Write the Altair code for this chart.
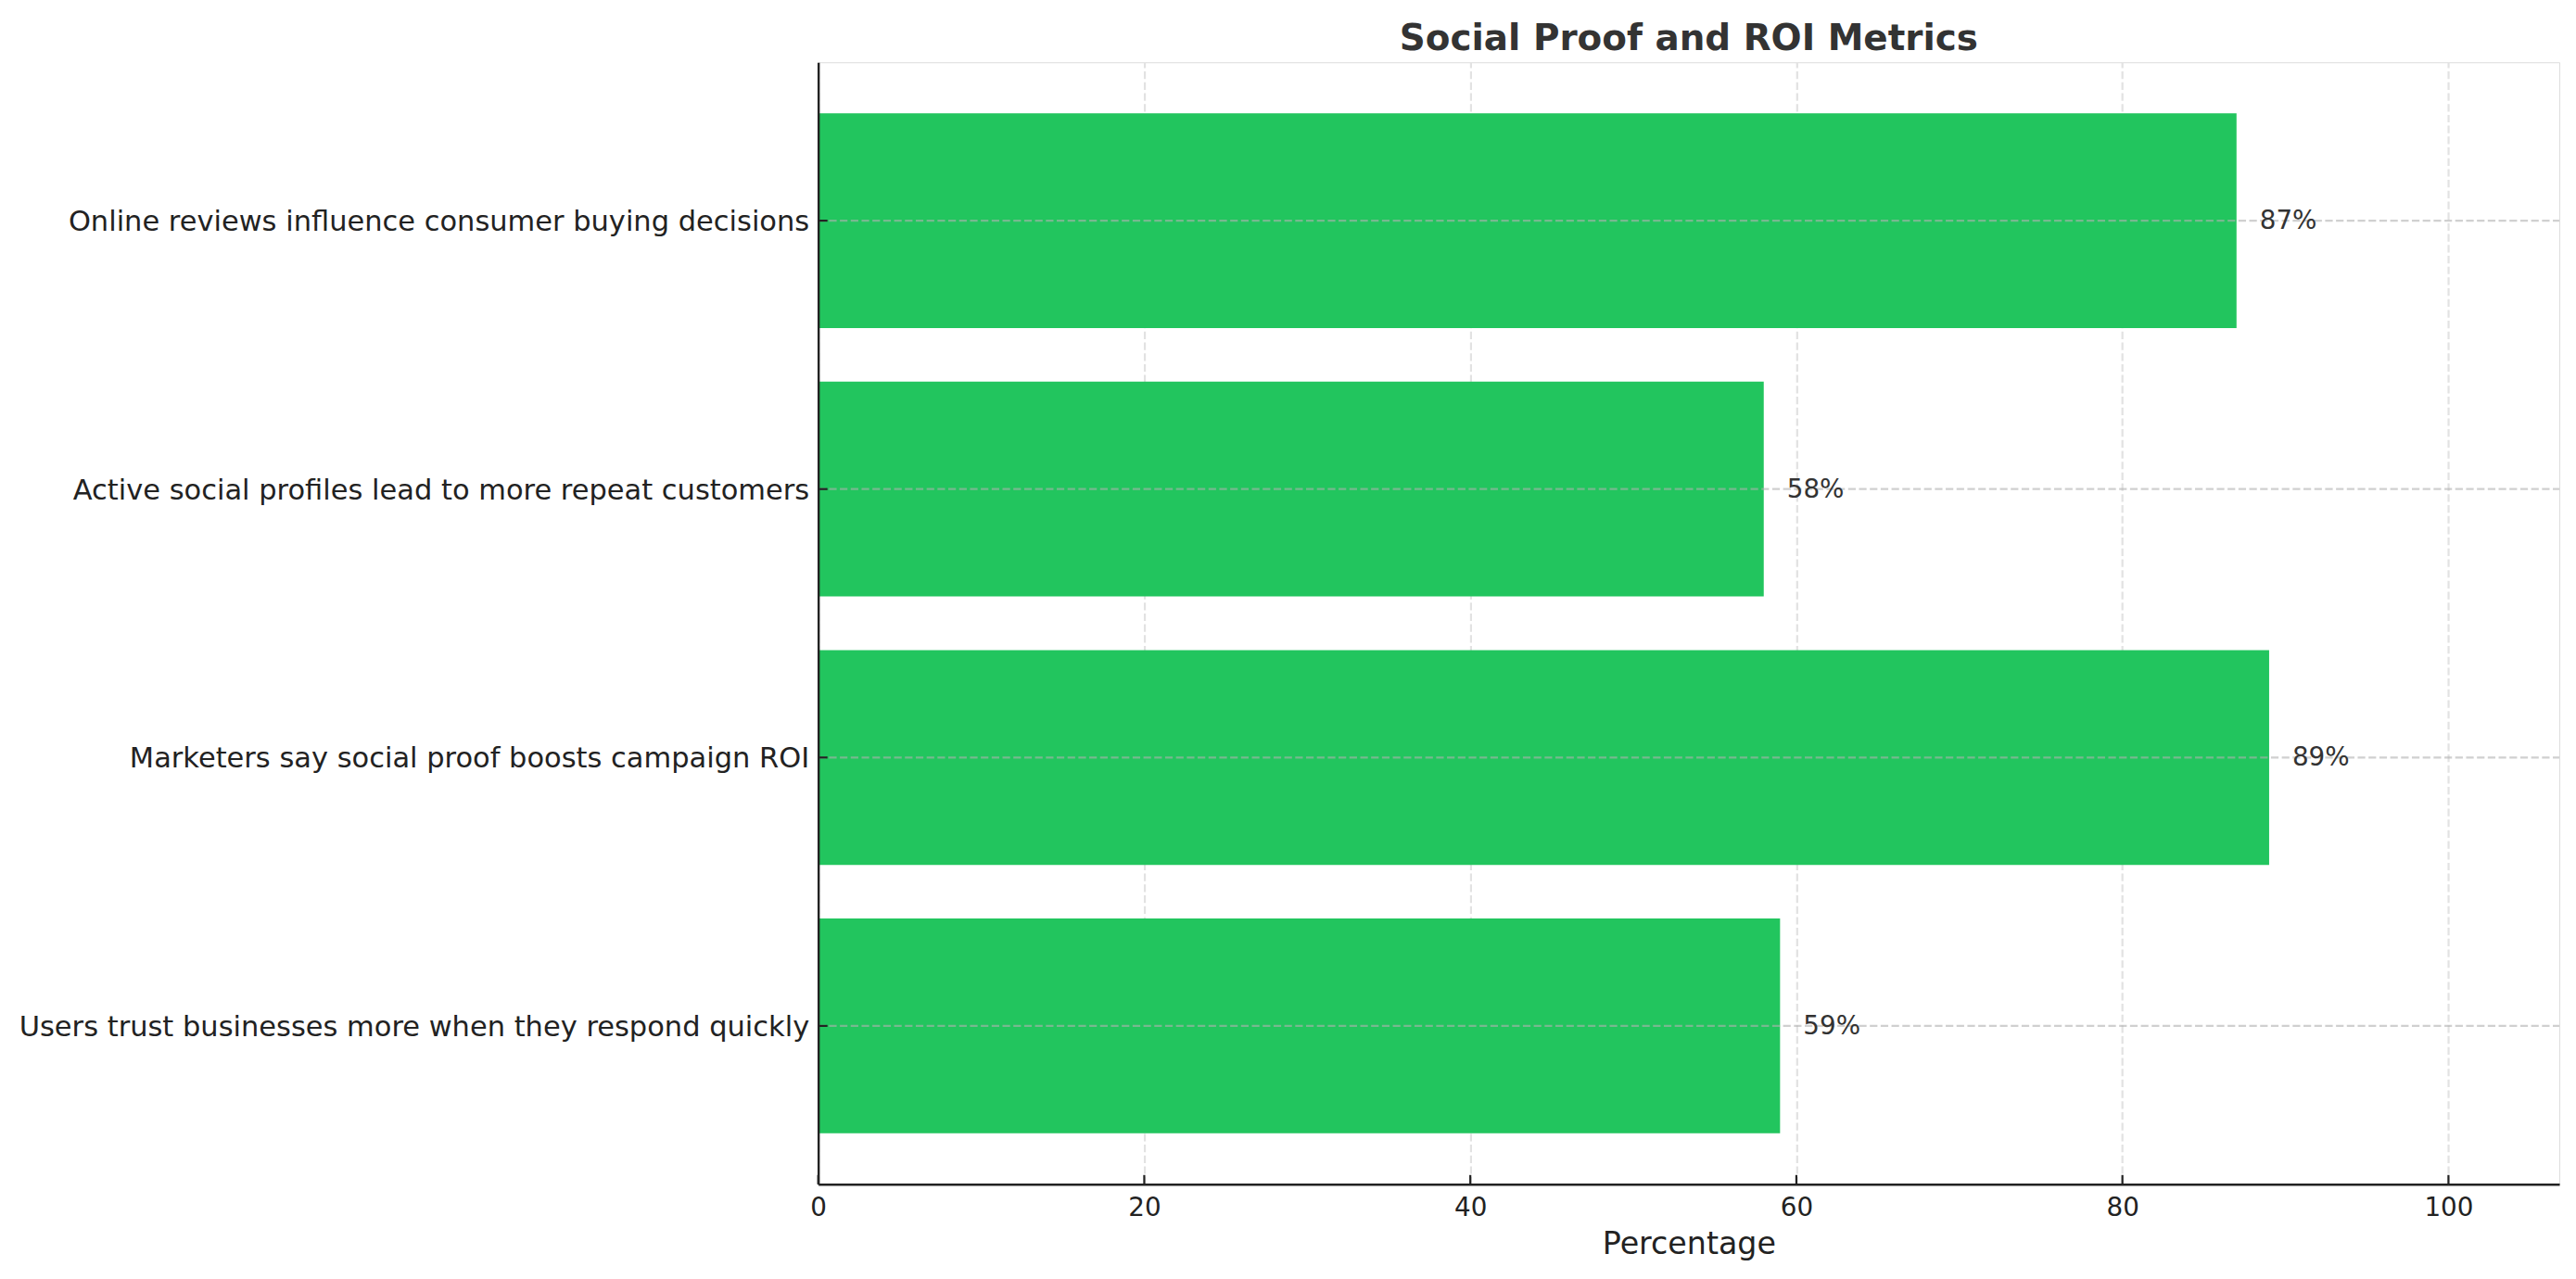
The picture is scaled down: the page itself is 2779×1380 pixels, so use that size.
import altair as alt
import pandas as pd

categories = [
    "Online reviews influence consumer buying decisions",
    "Active social profiles lead to more repeat customers",
    "Marketers say social proof boosts campaign ROI",
    "Users trust businesses more when they respond quickly",
]
values = [87, 58, 89, 59]
x_ticks = [0, 20, 40, 60, 80, 100]

df = pd.DataFrame({
    "label": categories,
    "value": values,
    "text": [f"{v}%" for v in values],
})
ticks_df = pd.DataFrame({"t": x_ticks})

FONT = "DejaVu Sans"
W, H = 1879, 1211
DASH = [8.2, 3.5]

x_enc = alt.X(
    "value:Q",
    scale=alt.Scale(domain=[0, 106.8], nice=False, zero=True),
    axis=alt.Axis(
        values=x_ticks,
        grid=True,
        gridColor="#e2e2e2",
        gridDash=DASH,
        gridWidth=2.2,
        domain=True,
        domainColor="#222222",
        domainWidth=2.4,
        ticks=False,
        labelFontSize=27.8,
        labelColor="#222222",
        labelPadding=12,
        labelFlush=False,
        labelFont=FONT,
        title="Percentage",
        titleFontSize=33.3,
        titleFontWeight="normal",
        titleColor="#222222",
        titleFont=FONT,
        titleBaseline="alphabetic",
        titleY=75,
        zindex=0,
    ),
)
y_enc = alt.Y(
    "label:N",
    sort=categories,
    scale=alt.Scale(paddingInner=0.2, paddingOuter=0.19),
    axis=alt.Axis(
        title=None,
        grid=False,
        domain=True,
        domainColor="#222222",
        domainWidth=2.4,
        ticks=False,
        labelFontSize=30.5,
        labelColor="#222222",
        labelPadding=10,
        labelOffset=2,
        labelLimit=2000,
        labelFont=FONT,
        zindex=1,
    ),
)

base = alt.Chart(df)

bars = base.mark_bar(color="#22c55e").encode(x=x_enc, y=y_enc)

hgrid = base.mark_rule(
    color="#b0b0b0", opacity=0.6, strokeWidth=2.2, strokeDash=DASH
).encode(y=alt.Y("label:N", sort=categories), x=alt.value(0), x2=alt.value(W))

labels = base.mark_text(
    align="left", baseline="middle", dx=25, dy=1, fontSize=27.8, color="#333333", font=FONT
).encode(x="value:Q", y=alt.Y("label:N", sort=categories), text="text:N")

xticks = alt.Chart(ticks_df).mark_rule(color="#222222", strokeWidth=2.2).encode(
    x="t:Q", y=alt.value(H - 10), y2=alt.value(H)
)
yticks = base.mark_rule(color="#222222", strokeWidth=2.2).encode(
    y=alt.Y("label:N", sort=categories), x=alt.value(0), x2=alt.value(10)
)

chart = (
    alt.layer(bars, hgrid, labels, xticks, yticks)
    .properties(
        width=W,
        height=H,
        title=alt.TitleParams(
            "Social Proof and ROI Metrics",
            fontSize=38.9,
            fontWeight="bold",
            color="#333333",
            font=FONT,
            anchor="middle",
            baseline="alphabetic",
            offset=16,
            dy=42,
        ),
        autosize=alt.AutoSizeParams(type="none"),
        padding={"left": 875, "top": 59, "right": 10, "bottom": 94},
    )
    .configure_view(stroke="transparent", strokeWidth=0)
    .configure(font=FONT)
)

chart.save("out.html", embed_options={"renderer": "svg", "actions": False})
